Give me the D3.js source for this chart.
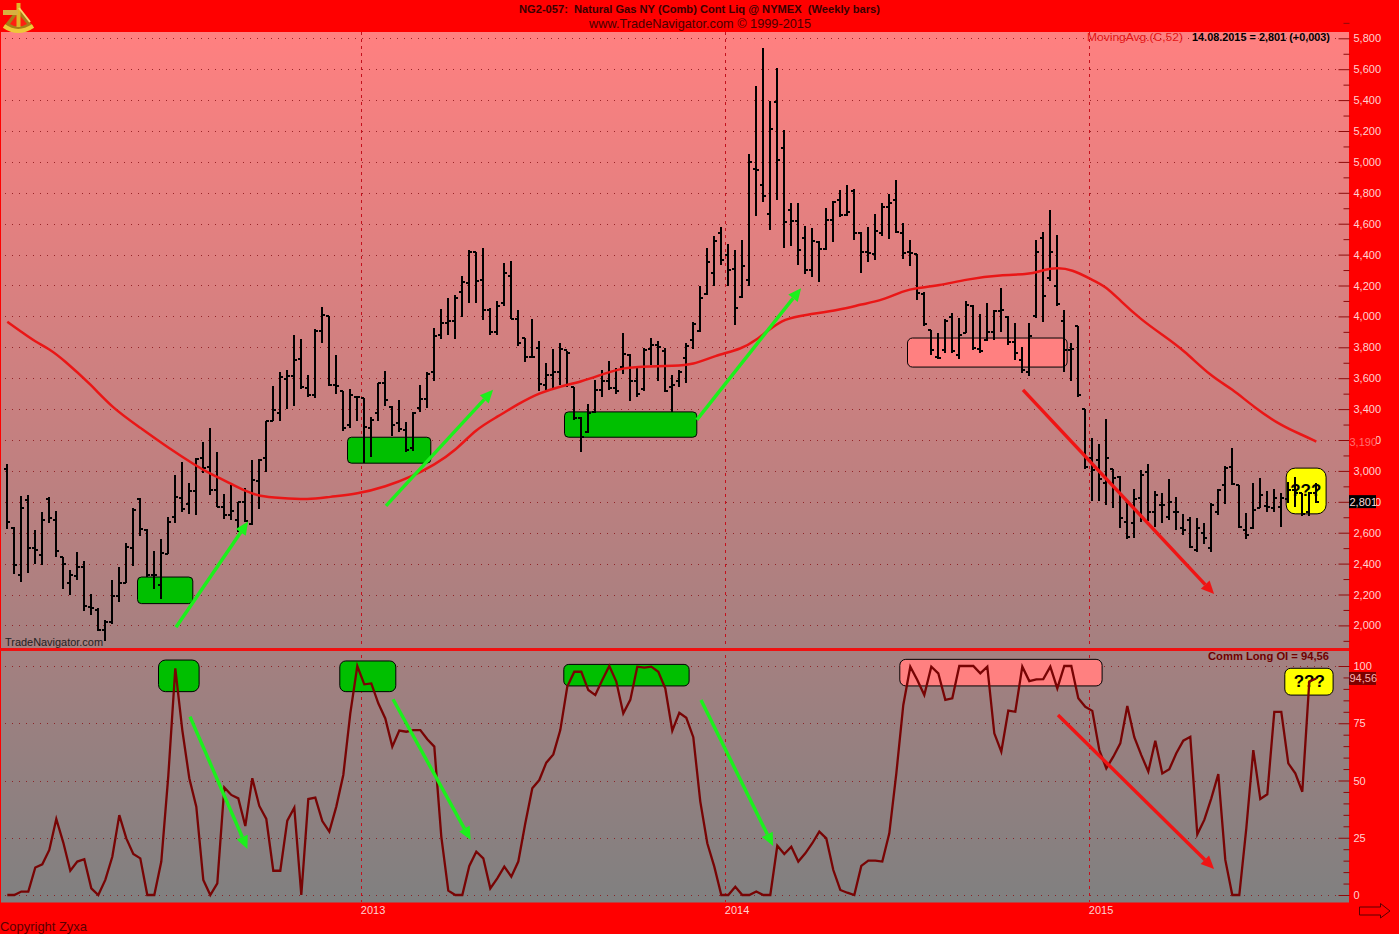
<!DOCTYPE html>
<html><head><meta charset="utf-8">
<style>html,body{margin:0;padding:0;background:#f00;overflow:hidden}svg{display:block}text{font-family:"Liberation Sans",Arial,sans-serif}</style>
<script src="https://cdn.jsdelivr.net/npm/d3@7"></script></head><body>
<script>
// ---------- data: weekly bars, one entry per week ----------
const open=[3010,2630,2326,2812,2501,2456,2817,2683,2441,2273,
2320,2380,2121,2100,1970,2024,2190,2277,2499,2817,
2618,2326,2262,2462,2704,2823,2786,2872,3084,3028,
2877,2767,2715,2683,2801,2657,2937,3082,3326,3374,
3596,3615,3724,3535,3492,3907,4000,3557,3514,3298,
3480,3471,3277,3374,3572,3412,3313,3266,3147,3406,
3464,3637,3881,3957,3967,4161,4216,4414,4233,4039,
3902,4086,4259,3983,3860,3737,3795,3557,3622,3643,
3784,3540,3341,3255,3384,3525,3579,3535,3670,3751,
3579,3529,3789,3816,3773,3546,3579,3732,3849,3907,
4146,4280,4543,4400,4306,4125,4233,4954,4850,4662,
5386,5090,4691,4620,4507,4298,4479,4436,4621,4755,
4659,4809,4540,4420,4405,4543,4711,4755,4543,4420,
4403,4146,3909,3740,3784,3999,3751,3892,4065,3789,
3849,3902,4032,3999,3837,3719,3643,4000,4507,4248,
4198,3967,3784,3935,3400,3082,3071,2920,3011,2963,
2672,2662,2823,2996,2737,2780,2704,2737,2629,2683,
2488,2600,2499,2737,2909,3028,2909,2618,2629,2758,
2773,2758,2769,2817,2877,2855,2735,2855];
const close=[2672,2391,2758,2499,2490,2683,2693,2484,2398,2326,
2376,2126,2111,1970,2024,2190,2277,2506,2747,2622,
2326,2326,2467,2672,2830,2752,2872,3076,3019,2877,
2769,2715,2743,2801,2678,2942,3071,3320,3395,3607,
3615,3719,3542,3492,3907,4011,3557,3551,3277,3492,
3481,3287,3330,3568,3460,3298,3270,3136,3374,3464,
3628,3870,3957,3967,4119,4220,4414,4226,4039,3902,
4065,4280,3983,3827,3737,3740,3564,3622,3643,3789,
3762,3341,3222,3374,3525,3579,3535,3514,3758,3579,
3499,3784,3816,3805,3514,3557,3643,3810,3952,4119,
4349,4491,4367,4302,4054,4324,4997,4945,4777,5213,
5010,4608,4615,4427,4298,4485,4436,4621,4738,4659,
4674,4540,4420,4410,4550,4707,4734,4546,4410,4410,
4151,3952,3784,3732,3967,3779,3881,4075,3795,3773,
3897,4032,4039,3837,3766,3654,3874,4414,4129,4414,
4082,3784,3789,3492,3028,3006,2946,3086,2952,2693,
2570,2817,2974,2737,2845,2780,2801,2737,2618,2510,
2629,2564,2780,2877,3021,2916,2639,2585,2747,2845,
2769,2823,2823,2877,2860,2722,2855,2801];
const high=[3045,2635,2838,2845,2618,2737,2830,2741,2441,2359,
2477,2419,2201,2115,2035,2294,2380,2532,2758,2823,
2622,2484,2558,2704,2974,3056,2920,3082,3190,3277,
3121,2849,2909,2797,2888,3071,3078,3326,3551,3643,
3650,3881,3855,3622,3918,4060,4004,3751,3514,3529,
3486,3475,3352,3572,3648,3417,3460,3319,3384,3557,
3637,3924,4047,4119,4140,4259,4431,4420,4442,4054,
4097,4345,4356,4043,3860,3983,3838,3697,3789,3831,
3777,3540,3352,3434,3589,3650,3714,3665,3892,3758,
3665,3795,3863,3838,3795,3622,3650,3827,3961,4194,
4442,4518,4579,4468,4433,4497,5048,5489,5737,5392,
5608,5209,4734,4734,4587,4572,4490,4701,4744,4820,
4848,4825,4546,4579,4665,4734,4795,4885,4605,4497,
4403,4161,3913,3892,3983,4021,3989,4097,4076,4017,
4086,4043,4183,4004,3956,3805,3958,4495,4546,4691,
4529,4043,3827,3935,3400,3212,3173,3336,3011,2968,
2812,2881,3006,3043,2871,2860,2946,2830,2719,2704,
2693,2665,2795,2881,3032,3147,2909,2726,2920,2953,
2871,2881,2855,2931,2963,2860,2866,2920];
const low=[2622,2331,2283,2337,2398,2391,2665,2441,2234,2197,
2294,2095,2067,1964,1901,2007,2150,2273,2387,2581,
2316,2234,2169,2462,2661,2737,2722,2715,2985,2845,
2765,2687,2683,2607,2672,2650,2752,2995,3320,3326,
3400,3421,3529,3481,3471,3827,3551,3499,3261,3277,
3326,3050,3089,3326,3421,3227,3255,3125,3131,3384,
3406,3585,3855,3881,3855,3999,4086,4086,3974,3881,
3881,4065,3983,3810,3708,3737,3520,3525,3535,3553,
3546,3330,3125,3244,3374,3481,3525,3499,3626,3453,
3481,3520,3686,3579,3510,3384,3540,3570,3789,3896,
4140,4194,4334,4198,3946,4119,4198,4647,4738,4556,
4751,4442,4457,4334,4274,4255,4220,4431,4481,4643,
4647,4492,4284,4349,4362,4518,4501,4540,4371,4323,
4108,3939,3751,3723,3762,3762,3723,3892,3784,3762,
3842,3849,3902,3817,3719,3633,3617,3989,3961,4226,
4069,3637,3585,3477,3011,2802,2802,2780,2758,2633,
2560,2568,2672,2678,2639,2662,2683,2618,2585,2503,
2473,2527,2477,2715,2784,2909,2629,2558,2622,2758,
2732,2732,2639,2790,2765,2708,2708,2790];
const commLongOI=[0,0,1.5,1.5,12,13.4,19.7,33.2,22.9,10.6,
14.6,15.6,2.9,0,6.6,16.7,34.9,24.7,17.9,16,
0,0,14.6,52,99,72,51,38.6,6.6,0,
5.1,47,43.7,42.2,30.1,51,38.9,33.2,10.6,10.6,
32.5,38.1,0,41.9,42.5,32.3,27.7,38.6,52.4,79.3,
100,92,92.4,83.7,77.1,64.8,71.8,71.3,72,72,
68,64.8,25.5,1.9,0,0,12.7,18.9,16,2.9,
7.3,12.4,8,14.6,31.3,46.6,50.2,57.8,61.4,72,
91,97.5,97.5,89.5,87.3,93.9,100,93.2,79.3,85.2,
99.7,99.3,99.7,97.5,90.2,71.8,79.6,77.4,68.9,40.8,
22.6,12.4,0,0,3.6,0,0,1.5,0,0,
21.5,17.9,21.1,14.6,18.2,22.6,27.7,24.7,10.9,2.2,
1,0,12.7,15,15,14.6,26.9,53,83,99.7,
93.9,87.3,99.7,96.8,85.2,85.9,100,100,100,96.8,
99.7,70.6,62.6,80.5,80,99.7,93.4,94.2,94.3,99.7,
90.2,100,100,85.9,82.2,80.4,63.3,55.3,60.4,66.2,
82.5,68.9,61.1,53.9,67.4,53.1,54.9,61.9,67.4,69.1,
26.5,32.8,42.2,52.8,15.3,0,0,29.1,63.3,41.9,
44,80,80,57.5,53.1,45.1,93.2,94.56];
// 52-week moving average, read at these weeks
const maWeeks=[0,2,4,6,8,12,15,19,23,27,29,32,34,36,39,43,46,50,54,58,61,64,67,70,73,76,79,82,85,88,92,95,98,101,105,107,109,111,114,119,122,125,128,130,133,137,142,146,148,150,152,155,157,159,162,165,168,172,175,178,182,185,187];
const maValues=[3965,3900,3836,3790,3721,3557,3408,3279,3149,3032,2981,2916,2870,2835,2825,2812,2832,2851,2896,2968,3039,3130,3272,3350,3434,3505,3547,3577,3625,3670,3677,3680,3687,3745,3790,3848,3920,3984,4010,4043,4078,4104,4166,4185,4198,4240,4270,4270,4302,4315,4305,4237,4192,4101,3978,3881,3784,3609,3531,3415,3292,3233,3190];
const priceTicks=[5800,5600,5400,5200,5000,4800,4600,4400,4200,4000,3800,3600,3400,3200,3000,2800,2600,2400,2200,2000];
const priceMinor=[5900,5700,5500,5300,5100,4900,4700,4500,4300,4100,3900,3700,3500,3300,3100,2900,2700,2500,2300,2100,1900];
const oscTicks=[100,75,50,25,0];
const oscMinor=[95,90,85,80,70,65,60,55,45,40,35,30,20,15,10,5];
const yearWeeks=[50.5,102.5,154.5];
const yearLabels=["2013","2014","2015"];
// annotations, in week / value terms: [weekFrom, weekTo, valueTop, valueBottom, fill, rx]
const priceBoxes=[[18.6,26.5,2313,2141,"#00bf00",4],[48.6,60.5,3218,3050,"#00bf00",4],[79.6,98.5,3382,3218,"#00bf00",4],[128.6,151.4,3860,3672,"#ff8080",5],[182.7,188.4,3018,2722,"#ffff00",9]];
const oscBoxes=[[21.6,27.4,102.6,88.8,"#00bf00",7],[47.5,55.5,102.2,88.8,"#00bf00",6],[79.5,97.4,100.7,91.3,"#00bf00",5],[127.5,156.4,102.9,91.3,"#ff8080",6],[182.5,189.4,99,87.3,"#ffff00",6]];
// arrows: [weekFrom, valueFrom, weekTo, valueTo, colour]
const priceArrows=[[24.1,1988,34.4,2672,"#1cf01c"],[54.1,2773,69.4,3525,"#1cf01c"],[98.5,3330,113.4,4183,"#1cf01c"],[145.1,3525,172.4,2203,"#f01414"]];
const oscArrows=[[26.1,77.9,34.3,20.1,"#1cf01c"],[55.1,85.5,66.2,24,"#1cf01c"],[99.1,85.2,109.4,21.4,"#1cf01c"],[150.1,78.6,172.4,11.4,"#f01414"]];

// ---------- drawing ----------
const W=1399,H=934;
const svg=d3.select("body").append("svg").attr("width",W).attr("height",H);
const defs=svg.append("defs");
const g=defs.append("linearGradient").attr("id","bg").attr("x1",0).attr("x2",0).attr("y1",0).attr("y2",1);
g.append("stop").attr("offset",0).attr("stop-color","#ff8080");
g.append("stop").attr("offset",1).attr("stop-color","#808080");
svg.append("rect").attr("width",W).attr("height",H).attr("fill","#ff0000");
svg.append("rect").attr("x",1).attr("y",32).attr("width",1348).attr("height",870.5).attr("fill","url(#bg)");

const x=d3.scaleLinear().domain([0,187]).range([7.3,1316.3]);
const yP=d3.scaleLinear().domain([2000,5800]).range([625.4,38.3]);
const yO=d3.scaleLinear().domain([0,100]).range([895,666]);

// dotted grid
const gridG=svg.append("g");
function hGrid(vals,sc){gridG.selectAll(null).data(vals).enter().append("line")
 .attr("x1",5).attr("x2",1336).attr("y1",d=>Math.round(sc(d))+.5).attr("y2",d=>Math.round(sc(d))+.5)
 .attr("stroke","#8a1418").attr("stroke-opacity",.85).attr("stroke-dasharray","1 6");}
hGrid(priceTicks,yP);hGrid(oscTicks,yO);
gridG.selectAll(null).data(yearWeeks).enter().append("line")
 .attr("x1",d=>Math.round(x(d))+.5).attr("x2",d=>Math.round(x(d))+.5).attr("y1",32).attr("y2",902)
 .attr("stroke","#c4101c").attr("stroke-dasharray","3 4");

// boxes
function boxes(data,sc){svg.append("g").selectAll("rect").data(data).enter().append("rect")
 .attr("x",d=>x(d[0])).attr("width",d=>x(d[1])-x(d[0])).attr("y",d=>sc(d[2])).attr("height",d=>sc(d[3])-sc(d[2]))
 .attr("rx",d=>d[5]).attr("fill",d=>d[4]).attr("stroke","#000").attr("stroke-width",1);}
boxes(priceBoxes,yP);boxes(oscBoxes,yO);

// ??? labels sit under the bars
function q(week,val,sc){svg.append("text").attr("x",x(week)).attr("y",sc(val)).attr("text-anchor","middle").attr("font-size",17).attr("font-weight","bold").attr("fill","#000").attr("dominant-baseline","central").text("???");}
q(185.5,2870,yP);q(186,93.1,yO);

// weekly bars
const bars=svg.append("g").attr("stroke","#000").attr("stroke-width",2).attr("shape-rendering","crispEdges");
const idx=d3.range(high.length);
bars.selectAll(".hl").data(idx).enter().append("line").attr("class","hl")
 .attr("x1",i=>x(i)).attr("x2",i=>x(i)).attr("y1",i=>yP(high[i])).attr("y2",i=>yP(low[i]));
bars.selectAll(".op").data(idx).enter().append("line").attr("class","op")
 .attr("x1",i=>x(i)-3).attr("x2",i=>x(i)).attr("y1",i=>yP(open[i])).attr("y2",i=>yP(open[i]));
bars.selectAll(".cl").data(idx).enter().append("line").attr("class","cl")
 .attr("x1",i=>x(i)).attr("x2",i=>x(i)+3).attr("y1",i=>yP(close[i])).attr("y2",i=>yP(close[i]));

// lines
svg.append("path").attr("d",d3.line().x(i=>x(maWeeks[i])).y(i=>yP(maValues[i])).curve(d3.curveBasis)(d3.range(maWeeks.length)))
 .attr("fill","none").attr("stroke","#ea1616").attr("stroke-width",2.5);
svg.append("path").attr("d",d3.line().x((d,i)=>x(i)).y(d=>yO(d))(commLongOI))
 .attr("fill","none").attr("stroke","#780404").attr("stroke-width",2.3);

// divider
svg.append("rect").attr("x",0).attr("y",648).attr("width",1349).attr("height",3).attr("fill","#f01010");

// arrows
function arrows(data,sc){data.forEach(a=>{
 const x0=x(a[0]),y0=sc(a[1]),x1=x(a[2]),y1=sc(a[3]);
 const ang=Math.atan2(y1-y0,x1-x0),L=13,wd=6;
 const bx=x1-L*Math.cos(ang),by=y1-L*Math.sin(ang);
 svg.append("line").attr("x1",x0).attr("y1",y0).attr("x2",bx).attr("y2",by).attr("stroke",a[4]).attr("stroke-width",3.4);
 svg.append("path").attr("fill",a[4]).attr("d",d3.line()([[x1,y1],[bx-wd*Math.sin(ang),by+wd*Math.cos(ang)],[bx+wd*Math.sin(ang),by-wd*Math.cos(ang)]])+"Z");
});}
arrows(priceArrows,yP);arrows(oscArrows,yO);

// axes
const labelFill="#ffd2d2",tickCol="#8e0a0a";
function axis(sc,major,minor,fmt){
 const m=svg.append("g").attr("transform","translate(1338.5,0)").call(d3.axisRight(sc).tickValues(major).tickSize(11).tickPadding(4).tickFormat(fmt));
 m.select(".domain").remove();m.selectAll("line").attr("stroke",tickCol);
 m.selectAll("text").attr("fill",labelFill).attr("font-size",11).attr("font-family",'"Liberation Sans",Arial,sans-serif');
 const n=svg.append("g").attr("transform","translate(1343.5,0)").call(d3.axisRight(sc).tickValues(minor).tickSize(6).tickFormat(""));
 n.select(".domain").remove();n.selectAll("line").attr("stroke",tickCol);
}
axis(yP,priceTicks,priceMinor,d3.format(","));
axis(yO,oscTicks,oscMinor,d3.format("d"));

// year labels
svg.append("g").selectAll("text").data(yearWeeks).enter().append("text")
 .attr("x",d=>x(d)).attr("y",914).attr("font-size",11).attr("fill",labelFill).text((d,i)=>yearLabels[i]);

// last-value flags
function flag(yPos,txt,bg,fg){
 svg.append("rect").attr("x",1349).attr("y",yPos-6.5).attr("width",27).attr("height",13).attr("fill",bg);
 svg.append("text").attr("x",1349.5).attr("y",yPos+4).attr("font-size",11).attr("fill",fg).text(txt);
}
flag(yP(3190),"3,190","#ff0000","#ff7070");
flag(yP(close[close.length-1]),"2,801","#000000","#ffd8d8");
flag(yO(commLongOI[commLongOI.length-1]),"94,56","#7c0000","#ffb0b0");

// titles
function t(xp,yp,s,size,fill,weight,len,anchor){const e=svg.append("text").attr("x",xp).attr("y",yp).attr("font-size",size).attr("fill",fill).attr("font-weight",weight||"normal").attr("text-anchor",anchor||"start").text(s);
 if(len)e.attr("textLength",len).attr("lengthAdjust","spacingAndGlyphs");return e;}
t(519,13,"NG2-057:  Natural Gas NY (Comb) Cont Liq @ NYMEX  (Weekly bars)",11,"#3a0000","bold",361).attr("xml:space","preserve");
t(589,28,"www.TradeNavigator.com © 1999-2015",13,"#4a0000","normal",222);
t(1087,41,"MovingAvg.(C,52)",11.5,"#e41414","normal",96);
t(1192,41,"14.08.2015 = 2,801 (+0,003)",11,"#000","bold",138);
t(1208,660,"Comm Long OI = 94,56",11,"#700000","bold",121);
t(5,646,"TradeNavigator.com",11,"#222","normal",98);
t(0,931,"Copyright Zyxa",13.5,"#5a0000","normal",87);

// sextant logo
const lg=svg.append("g");
lg.append("path").attr("d","M18 8 L4 26 Q18 36 33 26 Z").attr("fill","#a87c18");
lg.append("path").attr("d","M4 26 Q18 36 33 26").attr("fill","none").attr("stroke","#eec838").attr("stroke-width",4);
lg.append("path").attr("d","M10 24 Q18 29 27 24 L18 13 Z").attr("fill","#ff2010");
lg.append("rect").attr("x",16.5).attr("y",3).attr("width",4).attr("height",24).attr("fill","#e0b428");
lg.append("rect").attr("x",3).attr("y",10).attr("width",15).attr("height",5).attr("fill","#d8b040");
lg.append("path").attr("d","M19 8 L30 22").attr("stroke","#f4d868").attr("stroke-width",2);

// scroll arrow
svg.append("path").attr("fill","none").attr("stroke","#5a0000").attr("stroke-width",1)
 .attr("d",d3.line()([[1359.5,907],[1380.5,907],[1380.5,903.5],[1390,911],[1380.5,918],[1380.5,915],[1359.5,915]])+"Z");
</script></body></html>
